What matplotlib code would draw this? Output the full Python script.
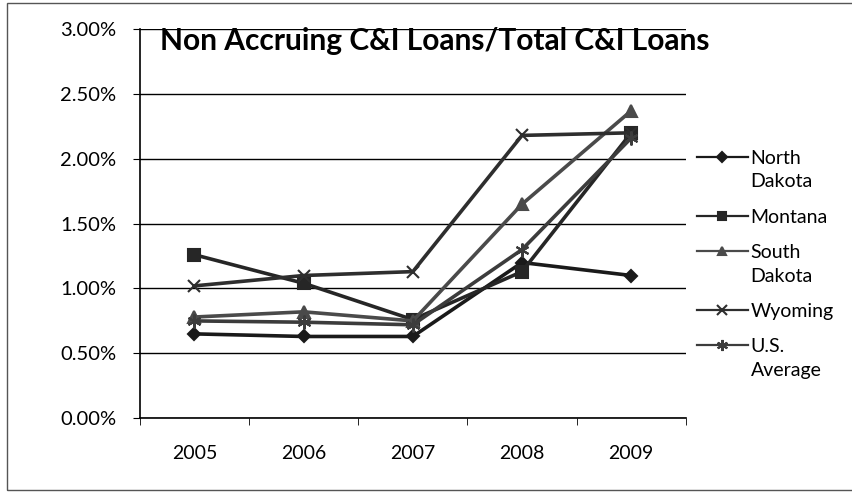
import matplotlib
matplotlib.use("Agg")
import matplotlib.pyplot as plt
from matplotlib.patches import Rectangle
from matplotlib.offsetbox import HPacker
from matplotlib.ticker import FuncFormatter, FixedLocator

# Non accruing C&I loans as share of total C&I loans (%)
years = ['2005', '2006', '2007', '2008', '2009']
north_dakota = [0.65, 0.63, 0.63, 1.20, 1.10]
montana = [1.26, 1.04, 0.76, 1.13, 2.20]
south_dakota = [0.78, 0.82, 0.75, 1.65, 2.37]
wyoming = [1.02, 1.10, 1.13, 2.18, 2.20]
us_average = [0.75, 0.74, 0.72, 1.30, 2.16]

series = [
    ('North\nDakota', north_dakota, 'D', '#1a1a1a', 6),
    ('Montana', montana, 's', '#262626', 8),
    ('South\nDakota', south_dakota, '^', '#4a4a4a', 8),
    ('Wyoming', wyoming, 'x', '#2e2e2e', 9),
    ('U.S.\nAverage', us_average, (6, 2, 0), '#3c3c3c', 10),
]

plt.rcParams['font.family'] = ['Lato', 'DejaVu Sans']

fig = plt.figure(figsize=(8.53, 4.92), dpi=100)
ax = fig.add_axes([0.164, 0.150, 0.640, 0.791])

x = range(len(years))
for label, vals, mk, col, ms in series:
    ax.plot(x, vals, color=col, lw=2.6, marker=mk, markersize=ms,
            markeredgewidth=1.5, label=label)

ax.set_xlim(-0.5, len(years) - 0.5)
ax.set_ylim(0, 3.0)
ax.set_yticks([0, 0.5, 1.0, 1.5, 2.0, 2.5, 3.0])
ax.yaxis.set_major_formatter(FuncFormatter(lambda v, p: '%.2f%%' % v))
ax.set_xticks(list(x))
ax.set_xticklabels(years)
ax.xaxis.set_minor_locator(FixedLocator([i - 0.5 for i in range(len(years) + 1)]))
ax.tick_params(axis='x', which='major', length=0, pad=19, labelsize=14)
ax.tick_params(axis='x', which='minor', length=5, direction='out', color='black')
ax.tick_params(axis='y', length=5, direction='out', labelsize=14.5, pad=12)
ax.grid(axis='y', color='black', lw=1.0)
ax.set_axisbelow(True)
for s in ['top', 'right']:
    ax.spines[s].set_visible(False)
for s in ['left', 'bottom']:
    ax.spines[s].set_color('black')
    ax.spines[s].set_linewidth(1.2)

ax.text(0.036, 0.946, 'Non Accruing C&I Loans/Total C&I Loans', transform=ax.transAxes,
        fontsize=21.5, fontweight='bold', ha='left', va='baseline')

leg = fig.legend(loc='upper left', bbox_to_anchor=(0.808, 0.711), frameon=False,
                 fontsize=14, handlelength=2.6, handletextpad=0.15, labelspacing=0.95,
                 borderaxespad=0)
for t in leg.get_texts():
    t.set_linespacing(1.45)
for ln in leg.get_lines():
    ln.set_linewidth(1.6)
    ln.set_markersize(ln.get_markersize() * 0.8)

# put the legend symbol next to the first line of two-line labels
def _entries(box):
    for child in box.get_children():
        if isinstance(child, HPacker) and len(child.get_children()) == 2:
            yield child
        else:
            yield from _entries(child)

try:
    for entry in _entries(leg._legend_handle_box):
        entry.align = 'top'
except AttributeError:
    pass

# chart frame
fig.patches.append(Rectangle((0.008, 0.004), 1.0, 0.990, transform=fig.transFigure,
                             fill=False, edgecolor='#555555', lw=1.0))

fig.savefig('out.png', dpi=100, facecolor='white')
